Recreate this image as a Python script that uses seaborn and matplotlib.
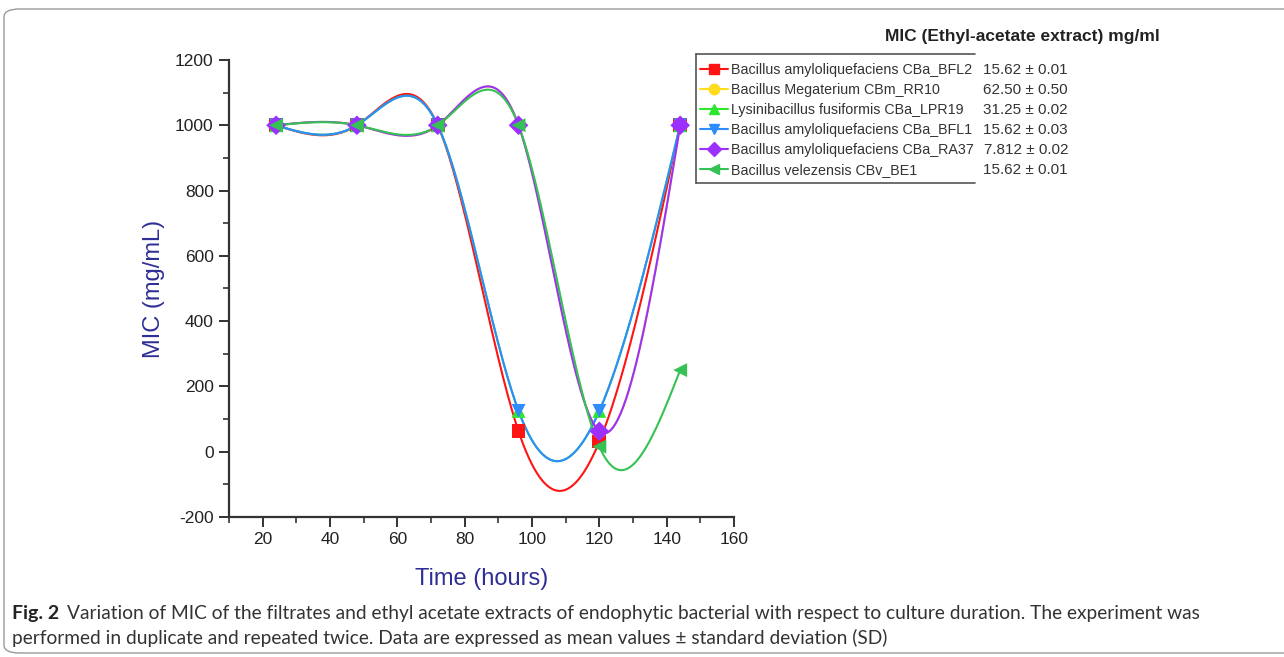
import numpy as np
import pandas as pd
import seaborn as sns
import matplotlib.pyplot as plt
from matplotlib.lines import Line2D
from matplotlib.patches import FancyBboxPatch
from matplotlib.ticker import MultipleLocator

# culture time (hours) and MIC (mg/mL) for each isolate
time_h = [24, 48, 72, 96, 120, 144]
strains = ["Bacillus amyloliquefaciens CBa_BFL2",
           "Bacillus Megaterium CBm_RR10",
           "Lysinibacillus fusiformis CBa_LPR19",
           "Bacillus amyloliquefaciens CBa_BFL1",
           "Bacillus amyloliquefaciens CBa_RA37",
           "Bacillus velezensis CBv_BE1"]
mic_bfl2 = [1000, 1000, 1000, 62.5, 31.25, 1000]
mic_rr10 = [1000, 1000, 1000, 1000, 62.5, 1000]
mic_lpr19 = [1000, 1000, 1000, 125, 125, 1000]
mic_bfl1 = [1000, 1000, 1000, 125, 125, 1000]
mic_ra37 = [1000, 1000, 1000, 1000, 62.5, 1000]
mic_be1 = [1000, 1000, 1000, 1000, 15.62, 250]
extract_mic = ["15.62 \u00b1 0.01", "62.50 \u00b1 0.50", "31.25 \u00b1 0.02",
               "15.62 \u00b1 0.03", "7.812 \u00b1 0.02", "15.62 \u00b1 0.01"]

colors = ["#ff1414", "#ffdc1e", "#2ee62e", "#2f8cff", "#9b30ff", "#35c154"]
markers = ["s", "o", "^", "v", "D", "<"]
all_mic = [mic_bfl2, mic_rr10, mic_lpr19, mic_bfl1, mic_ra37, mic_be1]


def natural_spline(x, y, n=300):
    # natural cubic spline, like Origin's "spline" line connection
    x = np.asarray(x, float)
    y = np.asarray(y, float)
    h = np.diff(x)
    k = len(x)
    A = np.zeros((k, k))
    r = np.zeros(k)
    A[0, 0] = A[-1, -1] = 1
    for i in range(1, k - 1):
        A[i, i - 1] = h[i - 1]
        A[i, i] = 2 * (h[i - 1] + h[i])
        A[i, i + 1] = h[i]
        r[i] = 6 * ((y[i + 1] - y[i]) / h[i] - (y[i] - y[i - 1]) / h[i - 1])
    M = np.linalg.solve(A, r)
    xs = np.linspace(x[0], x[-1], n)
    idx = np.clip(np.searchsorted(x, xs) - 1, 0, k - 2)
    hi = x[idx + 1] - x[idx]
    a = (x[idx + 1] - xs) / hi
    b = (xs - x[idx]) / hi
    ys = a * y[idx] + b * y[idx + 1] + ((a**3 - a) * M[idx] + (b**3 - b) * M[idx + 1]) * hi**2 / 6
    return xs, ys


pts = pd.concat([pd.DataFrame({"time": time_h, "mic": m, "strain": s})
                 for s, m in zip(strains, all_mic)], ignore_index=True)
curves = []
for s, m in zip(strains, all_mic):
    xs, ys = natural_spline(time_h, m)
    curves.append(pd.DataFrame({"time": xs, "mic": ys, "strain": s}))
curves = pd.concat(curves, ignore_index=True)

sns.set_style("ticks")
plt.rcParams["font.family"] = ["Liberation Sans", "DejaVu Sans"]
plt.rcParams["axes.unicode_minus"] = False

fig = plt.figure(figsize=(12.84, 6.57), dpi=100)
ax = fig.add_axes([0.1783, 0.2131, 0.3934, 0.6956])

pal = dict(zip(strains, colors))
sns.lineplot(data=curves, x="time", y="mic", hue="strain", hue_order=strains,
             palette=pal, estimator=None, sort=False, lw=1.5, legend=False, ax=ax)
sns.scatterplot(data=pts, x="time", y="mic", hue="strain", style="strain",
                hue_order=strains, style_order=strains, palette=pal,
                markers=dict(zip(strains, markers)), s=100, linewidth=0,
                legend=False, zorder=3, ax=ax)

ax.set_xlim(10, 160)
ax.set_ylim(-200, 1200)
ax.xaxis.set_minor_locator(MultipleLocator(10))
ax.yaxis.set_major_locator(MultipleLocator(200))
ax.yaxis.set_minor_locator(MultipleLocator(100))
ax.set_xticks([20, 40, 60, 80, 100, 120, 140, 160])
sns.despine(ax=ax)
for sp in ["left", "bottom"]:
    ax.spines[sp].set_color("#333333")
    ax.spines[sp].set_linewidth(1.6)
ax.tick_params(which="major", length=7, width=1.4, color="#333333", labelsize=12.5,
               labelcolor="#222222", pad=4)
ax.tick_params(which="minor", length=4, width=1.2, color="#333333")
ax.set_xlabel("Time (hours)", fontsize=17, color="#2e2e96", labelpad=15)
ax.set_ylabel("MIC (mg/mL)", fontsize=17, color="#2e2e96", labelpad=7)

# legend with handle line + marker, values column next to it
handles = [Line2D([], [], color=c, marker=m, markersize=7.5, lw=1.5)
           for c, m in zip(colors, markers)]
leg = fig.legend(handles, strains, loc="upper left", bbox_to_anchor=(0.5415, 0.911),
                 frameon=False, fontsize=10.3, handlelength=2.0, handletextpad=0.2,
                 labelspacing=0.42, borderaxespad=0, borderpad=0.3)
for t in leg.get_texts():
    t.set_color("#333333")

fig.canvas.draw()
inv = fig.transFigure.inverted()
for t, val in zip(leg.get_texts(), extract_mic):
    bb = t.get_window_extent()
    yc = inv.transform(((bb.x0 + bb.x1) / 2, (bb.y0 + bb.y1) / 2))[1]
    fig.text(1068 / 1284, yc, val, ha="right", va="center", fontsize=11, color="#333333")

# legend box edges (left, top, bottom only)
x0, x1 = 696 / 1284, 975 / 1284
yt, yb = 1 - 54 / 657, 1 - 183 / 657
for xx, yy in [([x0, x0], [yb, yt]), ([x0, x1], [yt, yt]), ([x0, x1], [yb, yb])]:
    fig.add_artist(Line2D(xx, yy, color="#555555", lw=1.2, transform=fig.transFigure))

fig.text(1022 / 1284, 1 - 36 / 657, "MIC (Ethyl-acetate extract) mg/ml", ha="center",
         va="center", fontsize=12.5, fontweight="bold", color="#222222")

# caption
cap_font = ["Lato", "DejaVu Sans"]
fig.text(12 / 1284, 1 - 613 / 657, "Fig. 2", fontsize=14, fontweight="bold",
         family=cap_font, va="center", color="#222222")
fig.text(67 / 1284, 1 - 613 / 657,
         "Variation of MIC of the filtrates and ethyl acetate extracts of endophytic bacterial "
         "with respect to culture duration. The experiment was",
         fontsize=13.8, family=cap_font, va="center", color="#333333")
fig.text(12 / 1284, 1 - 638 / 657,
         "performed in duplicate and repeated twice. Data are expressed as mean values \u00b1 "
         "standard deviation (SD)",
         fontsize=13.8, family=cap_font, va="center", color="#333333")

border = FancyBboxPatch((4 / 1284, 4 / 657), 1.2, 1 - 13 / 657,
                        boxstyle="round,pad=0,rounding_size=0.012",
                        transform=fig.transFigure, fill=False, ec="#9a9a9a", lw=1.0)
fig.add_artist(border)

fig.savefig("out.png", dpi=100)
